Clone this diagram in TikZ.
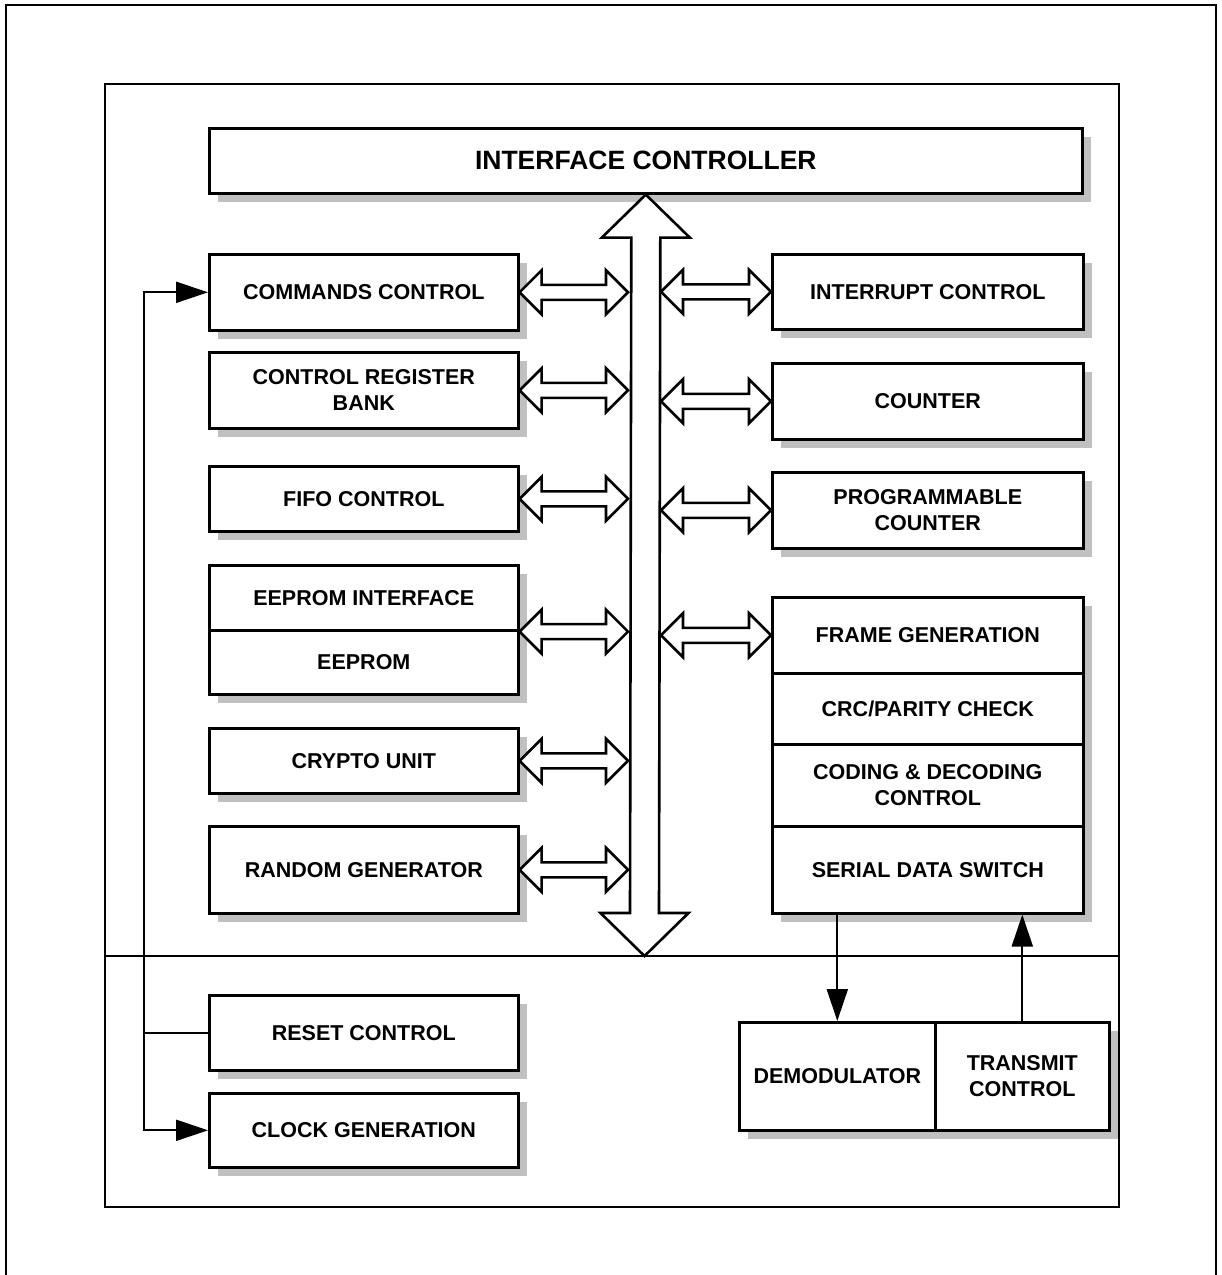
\documentclass[tikz,border=0pt]{standalone}
\usepackage{fontspec}
\setmainfont{Liberation Sans}
\usetikzlibrary{shadows,arrows.meta,calc}
\definecolor{shadowgray}{HTML}{C0C0C0}
\tikzset{
  blk/.style={draw, line width=2.6pt, fill=white, anchor=north west, inner sep=0pt,
    align=center, font=\fontsize{21.5}{26}\selectfont\bfseries,
    drop shadow={shadow xshift=9pt, shadow yshift=-9pt, fill=shadowgray, opacity=1}},
  titlefont/.style={font=\fontsize{26.5}{30}\selectfont\bfseries},
  dblarr/.style={draw, line width=2.6pt, fill=white, line join=miter},
  wire/.style={draw, line width=2.2pt},
  tip/.style={-{Triangle[length=32pt,width=21pt]}},
  frame/.style={draw, line width=2pt}
}
\newcommand{\dbl}[2]{\draw[dblarr] (#1) -- ($(#1)+(22,-22)$) -- ($(#1)+(22,-7.5)$) -- ($(#2)+(-22,-7.5)$) -- ($(#2)+(-22,-22)$) -- (#2) -- ($(#2)+(-22,22)$) -- ($(#2)+(-22,7.5)$) -- ($(#1)+(22,7.5)$) -- ($(#1)+(22,22)$) -- cycle;}
\newcommand{\dblL}[1]{\coordinate (tmpA) at (#1); \coordinate (tmpB) at (#1 -| bl); \dbl{tmpA}{tmpB}}
\newcommand{\dblR}[1]{\coordinate (tmpB) at (#1); \coordinate (tmpA) at (#1 -| br); \dbl{tmpA}{tmpB}}
\begin{document}
\begin{tikzpicture}[x=1pt,y=-1pt]
\useasboundingbox (0,0) rectangle (1222,1275);
\fill[white] (0,0) rectangle (1222,1275);
% frames
\draw[frame] (6,1275) -- (6,5) -- (1216,5) -- (1216,1275);
\draw[frame] (105,84) rectangle (1119,1207);
\draw[frame] (105,956) -- (1119,956);
% title box
\node[blk, titlefont, minimum width=873pt, minimum height=65pt] (ic) at (208,127) {INTERFACE CONTROLLER};
% left column
\node[blk, minimum width=309pt, minimum height=76pt] (cmd) at (208,253) {COMMANDS CONTROL};
\node[blk, minimum width=309pt, minimum height=76pt] (crb) at (208,351) {CONTROL REGISTER\\BANK};
\node[blk, minimum width=309pt, minimum height=65pt] (fifo) at (208,465) {FIFO CONTROL};
\node[blk, minimum width=309pt, minimum height=65pt] (eei) at (208,564) {EEPROM INTERFACE};
\node[blk, minimum width=309pt, minimum height=64pt] (eep) at (208,629) {EEPROM};
\node[blk, minimum width=309pt, minimum height=65pt] (cry) at (208,727) {CRYPTO UNIT};
\node[blk, minimum width=309pt, minimum height=87pt] (rng) at (208,825) {RANDOM GENERATOR};
\node[blk, minimum width=309pt, minimum height=75pt] (rst) at (208,994) {RESET CONTROL};
\node[blk, minimum width=309pt, minimum height=74pt] (clk) at (208,1092) {CLOCK GENERATION};
% right column
\node[blk, minimum width=311pt, minimum height=75pt] (irq) at (771,253) {INTERRUPT CONTROL};
\node[blk, minimum width=311pt, minimum height=76pt] (cnt) at (771,362) {COUNTER};
\node[blk, minimum width=311pt, minimum height=76pt] (pcnt) at (771,471) {PROGRAMMABLE\\COUNTER};
\node[blk, minimum width=311pt, minimum height=76pt] (frm) at (771,596) {FRAME GENERATION};
\node[blk, minimum width=311pt, minimum height=71pt] (crc) at (771,672) {CRC/PARITY CHECK};
\node[blk, minimum width=311pt, minimum height=82pt] (cod) at (771,743) {CODING \& DECODING\\CONTROL};
\node[blk, minimum width=311pt, minimum height=87pt] (sds) at (771,825) {SERIAL DATA SWITCH};
% bottom right
\node[blk, minimum width=196pt, minimum height=108pt] (dem) at (738,1021) {DEMODULATOR};
\node[blk, minimum width=174pt, minimum height=108pt] (tx) at (934,1021) {TRANSMIT\\CONTROL};
% bus
\coordinate (bt) at (ic.south);
\coordinate (bb) at (644.5,956);
\draw[dblarr] (bt) -- ($(bt)+(44,43)$) -- ($(bt)+(14.5,43)$) -- ($(bb)+(14.5,-43)$) -- ($(bb)+(44,-43)$) -- (bb) -- ($(bb)+(-44,-43)$) -- ($(bb)+(-14.5,-43)$) -- ($(bt)+(-14.5,43)$) -- ($(bt)+(-44,43)$) -- cycle;
\coordinate (bl) at (628,0);
\coordinate (br) at (661,0);
% small double arrows
\dblL{cmd.east}
\dblL{crb.east}
\dblL{fifo.east}
\dblL{eei.south east}
\dblL{cry.east}
\dblL{rng.east}
\dblR{irq.west}
\dblR{cnt.west}
\dblR{pcnt.west}
\dblR{frm.west}
% wires
\coordinate (wx) at (144,0);
\draw[wire, {Triangle[length=32pt,width=21pt]}-{Triangle[length=32pt,width=21pt]}] (cmd.west) -- (cmd.west -| wx) -- (clk.west -| wx) -- (clk.west);
\draw[wire] (rst.west) -- (rst.west -| wx);
\draw[wire, tip] (dem.north |- sds.south) -- (dem.north);
\draw[wire, tip] (tx.north) -- (tx.north |- sds.south);
\end{tikzpicture}
\end{document}
